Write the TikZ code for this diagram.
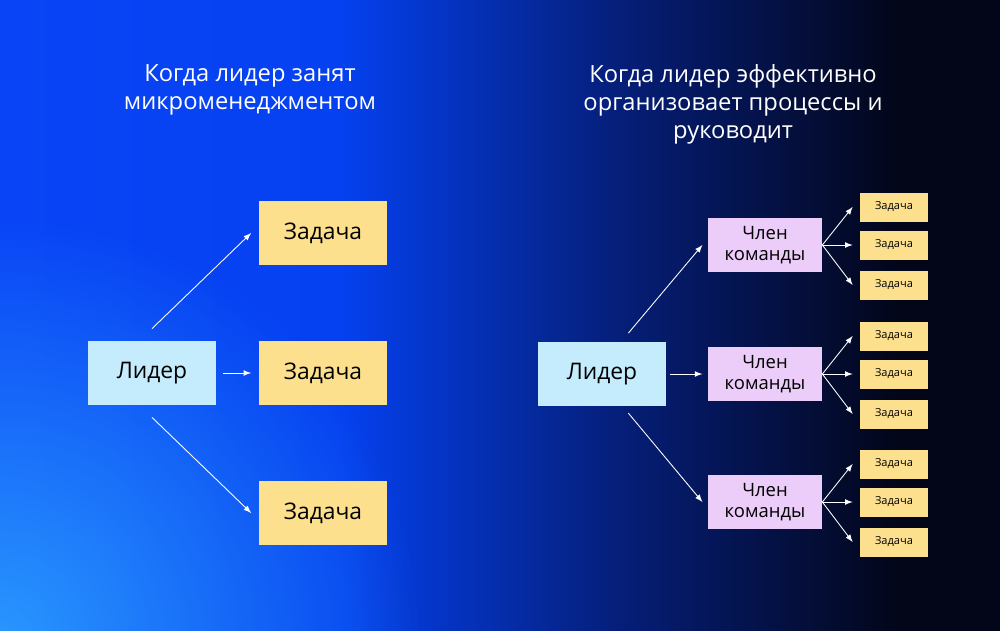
\documentclass[tikz,border=0pt]{standalone}
\usepackage{fontspec}
\setmainfont{Open Sans}
\usetikzlibrary{positioning,fadings}
\definecolor{bgA}{RGB}{15,75,255}
\definecolor{bgB}{RGB}{5,65,240}
\definecolor{bgC}{RGB}{5,30,120}
\definecolor{bgD}{RGB}{3,6,25}
\definecolor{glow}{RGB}{45,160,255}
\definecolor{leadfill}{RGB}{196,236,252}
\definecolor{taskfill}{RGB}{253,224,142}
\definecolor{memberfill}{RGB}{236,204,249}
\pgfdeclarehorizontalshading{bgshade}{100bp}{color(0bp)=(bgA); color(42bp)=(bgB); color(56bp)=(bgC); color(70bp)=(bgD); color(100bp)=(bgD)}
\tikzfading[name=softglow, inner color=transparent!0, outer color=transparent!100]
\tikzstyle{lead} = [rectangle, fill=leadfill, minimum width=2.56cm, minimum height=1.27cm, font=\fontsize{13}{15}\selectfont]
\tikzstyle{task} = [rectangle, fill=taskfill, minimum width=2.58cm, minimum height=1.28cm, font=\fontsize{13}{15}\selectfont]
\tikzstyle{member} = [rectangle, fill=memberfill, minimum width=2.28cm, minimum height=1.08cm, align=center, font=\fontsize{10.5}{12}\selectfont]
\tikzstyle{small} = [rectangle, fill=taskfill, minimum width=1.36cm, minimum height=0.58cm, font=\fontsize{6.3}{7}\selectfont]
\tikzstyle{title} = [text=white, align=center, font=\fontsize{13.5}{16}\selectfont]
\tikzstyle{arr} = [draw=white, line width=0.5pt, -latex]

\begin{document}
\begin{tikzpicture}[x=0.02cm, y=-0.02cm]
\useasboundingbox (0,0) rectangle (1000,630);
\shade[shading=bgshade] (0,0) rectangle (1000,630);
\begin{scope}
\clip (0,0) rectangle (1000,630);
\fill[glow, path fading=softglow, opacity=0.9] (0,640) circle (420);
\end{scope}
% left half
\node(T1)[title] at (250,90) {Когда лидер занят\\микроменеджментом};
\node(L1)[lead] at (152,373) {Лидер};
\node(A)[task] at (323,233) {Задача};
\node(B)[task] at (323,373) {Задача};
\node(C)[task] at (323,513) {Задача};
\draw[arr] ([yshift=7]L1.north) -- ([xshift=-4]A.west);
\draw[arr] ([xshift=4]L1.east) -- ([xshift=-4]B.west);
\draw[arr] ([yshift=-7]L1.south) -- ([xshift=-4]C.west);
% right half
\node(T2)[title] at (733,104) {Когда лидер эффективно\\организовает процессы и\\руководит};
\node(L2)[lead] at (602,374) {Лидер};
\foreach \m/\y in {1/245,2/374,3/502}{
  \node(M\m)[member] at (765,\y) {Член\\команды};
  \foreach \k/\d in {1/-38,2/0,3/40}{
    \node(S\m\k)[small] at (894,\y+\d) {Задача};
    \draw[arr] (M\m.east) -- ([xshift=-4]S\m\k.west);
  }
}
\draw[arr] ([xshift=15,yshift=5]L2.north) -- ([xshift=-3]M1.west);
\draw[arr] ([xshift=2]L2.east) -- ([xshift=-3]M2.west);
\draw[arr] ([xshift=15,yshift=-4]L2.south) -- ([xshift=-3]M3.west);
\end{tikzpicture}
\end{document}
